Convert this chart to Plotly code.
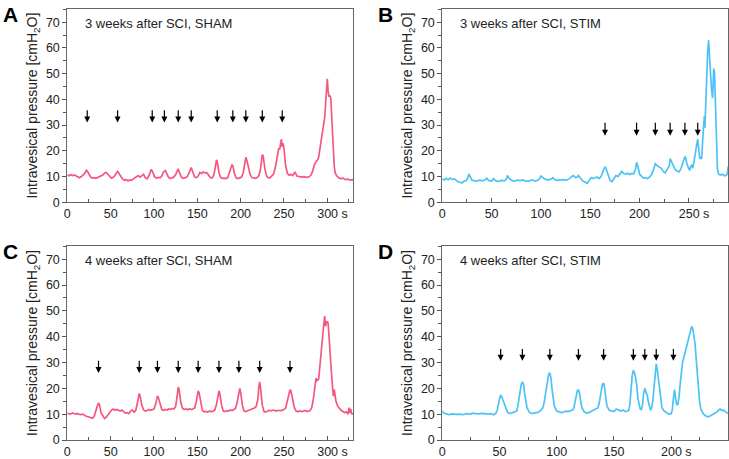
import plotly.graph_objects as go

# panel A: 3 weeks after SCI, SHAM
t_a = [0, 2, 4, 6, 8, 10, 12, 14, 16, 18, 20, 22, 23, 25, 27, 29, 31, 33, 35, 37, 39, 41, 43, 45, 47, 49,
       51, 53, 55, 57, 58, 60, 62, 64, 66, 68, 70, 72, 74, 76, 78, 80, 82, 84, 86, 88, 90, 92, 94, 96, 97,
       99, 101, 103, 105, 107, 109, 111, 113, 115, 117, 119, 121, 123, 125, 127, 128, 130, 132, 134, 136,
       138, 140, 142, 143, 145, 147, 149, 151, 153, 155, 157, 159, 161, 163, 165, 167, 169, 171, 172, 173,
       175, 177, 179, 181, 183, 185, 187, 189, 190, 191, 193, 195, 197, 199, 201, 203, 205, 206, 207, 209,
       211, 213, 215, 217, 219, 221, 223, 225, 226, 228, 230, 232, 234, 236, 238, 240, 242, 243, 244, 245,
       246, 247, 248, 249, 250, 251, 252, 254, 256, 258, 260, 262, 263, 265, 267, 270, 273, 276, 279, 281,
       283, 285, 287, 289, 290, 292, 294, 296, 297, 298, 299, 300, 301, 302, 303, 304, 305, 306, 307, 308,
       309, 311, 313, 315, 318, 321, 324, 327, 330]
p_a = [10.6, 10.3, 10.7, 10.4, 10.6, 10.2, 9.8, 9.5, 9.9, 10.4, 11.2, 12.4, 12.1, 11.0, 9.8, 9.4, 9.6, 9.3,
       9.7, 9.9, 10.2, 10.6, 11.4, 11.6, 10.8, 9.9, 9.4, 9.7, 10.4, 11.6, 12.0, 11.0, 9.8, 9.0, 8.6, 8.9,
       8.3, 8.7, 8.5, 9.2, 9.5, 10.0, 10.3, 9.8, 10.5, 10.9, 9.6, 9.1, 10.2, 12.0, 12.8, 11.4, 9.8, 9.4,
       9.7, 9.5, 10.2, 11.8, 12.3, 11.0, 9.6, 9.2, 9.5, 9.8, 10.8, 12.6, 13.0, 11.0, 9.6, 9.3, 9.6, 9.8,
       11.0, 13.2, 13.5, 11.6, 9.8, 9.6, 10.2, 11.6, 11.2, 11.8, 11.4, 11.5, 10.5, 9.6, 9.4, 10.5, 14.0,
       16.5, 15.8, 11.5, 9.6, 9.3, 9.4, 9.2, 9.6, 11.5, 14.0, 14.5, 14.2, 11.0, 9.4, 9.2, 9.5, 9.8, 11.5,
       16.0, 17.5, 16.5, 13.5, 10.8, 9.6, 9.4, 9.3, 9.6, 10.4, 13.0, 18.5, 18.0, 13.0, 10.2, 9.5, 9.6, 10.4,
       11.0, 13.5, 18.0, 19.5, 21.0, 20.5, 22.5, 24.5, 21.5, 23.0, 21.0, 18.0, 14.0, 11.2, 10.5, 10.8, 10.4,
       11.4, 11.6, 10.2, 10.0, 9.8, 10.0, 9.7, 9.9, 10.5, 12.0, 14.5, 15.8, 16.5, 17.5, 22.0, 26.0, 30.0,
       33.0, 38.0, 44.0, 48.0, 43.0, 41.0, 41.5, 40.5, 34.0, 27.0, 19.0, 14.0, 11.5, 10.2, 9.6, 9.2, 9.4,
       8.8, 9.0, 8.6, 8.8]
arrows_a = [23, 58, 98, 112, 128, 143, 173, 191, 206, 225, 248]

# panel B: 3 weeks after SCI, STIM
t_b = [0, 2, 4, 6, 8, 10, 12, 14, 16, 18, 20, 22, 24, 26, 27, 28, 30, 32, 35, 38, 41, 44, 45, 47, 50, 52,
       54, 57, 60, 63, 65, 66, 68, 70, 73, 76, 79, 82, 85, 88, 91, 94, 97, 99, 100, 102, 104, 107, 110, 112,
       114, 117, 120, 123, 126, 129, 131, 133, 135, 137, 138, 140, 142, 144, 146, 147, 149, 151, 153, 155,
       157, 159, 161, 163, 165, 166, 168, 170, 172, 174, 176, 178, 180, 182, 184, 186, 188, 190, 192, 194,
       196, 197, 198, 200, 202, 204, 206, 208, 210, 212, 214, 216, 218, 220, 222, 224, 226, 228, 230, 231,
       232, 234, 236, 238, 240, 242, 244, 246, 247, 248, 250, 251, 252, 253, 254, 255, 256, 257, 258, 259,
       260, 261, 262, 263, 264, 265, 265.7, 266.3, 267, 268, 269, 270, 271, 272, 273, 274, 274.6, 275.2,
       276, 277, 278, 279, 280, 282, 284, 286, 288, 289, 290]
p_b = [9.2, 8.6, 9.3, 8.8, 9.4, 8.9, 9.1, 8.4, 8.0, 7.8, 7.5, 8.2, 8.4, 9.5, 11.0, 10.2, 8.6, 8.4, 8.2, 8.6,
       8.3, 8.8, 9.4, 8.5, 8.2, 9.2, 8.4, 8.1, 8.5, 8.3, 9.0, 10.4, 9.2, 8.6, 8.2, 8.6, 8.4, 8.7, 8.1, 8.3,
       8.7, 8.2, 8.6, 9.4, 10.2, 9.6, 9.0, 8.7, 8.9, 9.6, 8.8, 8.5, 8.6, 8.8, 8.6, 9.2, 10.0, 10.4, 9.6,
       9.8, 10.4, 9.2, 8.4, 8.0, 7.8, 7.4, 8.6, 9.6, 9.2, 9.4, 9.8, 9.2, 10.0, 12.0, 13.8, 13.2, 10.5, 8.6,
       8.0, 9.2, 10.4, 10.0, 10.8, 12.0, 11.2, 11.0, 11.3, 10.8, 11.2, 11.0, 13.0, 15.5, 14.5, 11.0, 10.2,
       9.4, 9.6, 9.2, 9.8, 10.6, 12.5, 15.0, 14.2, 13.8, 13.2, 12.0, 11.4, 12.8, 14.0, 17.0, 16.2, 14.0,
       12.8, 12.2, 11.8, 13.0, 15.5, 17.8, 17.0, 15.0, 13.0, 12.4, 14.0, 14.6, 13.2, 15.0, 17.5, 20.0, 22.5,
       24.5, 21.0, 17.0, 17.4, 16.8, 24.0, 30.0, 33.5, 29.0, 38.0, 50.0, 58.0, 63.0, 58.0, 50.0, 44.0, 40.5,
       46.0, 52.0, 50.5, 38.0, 22.0, 13.0, 11.0, 10.6, 10.9, 10.3, 10.5, 11.0, 14.0]
arrows_b = [165, 197, 216, 231, 246, 259]

# panel C: 4 weeks after SCI, SHAM
t_c = [0, 3, 6, 9, 12, 15, 18, 21, 24, 27, 29, 31, 33, 35, 36, 37, 39, 41, 43, 45, 47, 49, 51, 53, 55, 57,
       59, 61, 63, 65, 67, 69, 71, 73, 75, 77, 79, 81, 83, 84, 86, 88, 90, 92, 94, 96, 98, 100, 102, 104,
       105, 107, 109, 111, 113, 115, 117, 119, 121, 123, 125, 127, 128, 129, 131, 133, 135, 137, 139, 141,
       143, 145, 147, 149, 151, 152, 154, 156, 158, 160, 162, 164, 166, 168, 170, 172, 174, 175, 176, 178,
       180, 182, 184, 186, 188, 190, 192, 194, 196, 198, 199, 200, 202, 204, 206, 208, 210, 212, 214, 216,
       218, 220, 221, 222, 223, 225, 227, 229, 231, 233, 235, 238, 241, 244, 247, 250, 252, 254, 256, 257,
       258, 260, 262, 264, 266, 268, 271, 274, 277, 280, 282, 284, 286, 287, 288, 290, 291, 292, 293, 294,
       295, 296, 297, 298, 299, 300, 301, 302, 303, 304, 305, 306, 307, 308, 309, 310, 312, 314, 316, 318,
       320, 322, 324, 325, 326, 327, 328, 330]
p_c = [10.4, 10.0, 10.5, 10.1, 10.2, 9.8, 10.0, 9.3, 9.0, 8.6, 8.4, 9.2, 11.8, 13.5, 14.3, 13.8, 10.5, 9.2,
       8.3, 8.8, 9.8, 10.6, 11.6, 12.0, 11.5, 11.8, 11.4, 11.2, 11.6, 10.8, 10.4, 10.6, 10.2, 11.2, 11.6,
       10.8, 11.5, 14.5, 18.0, 17.0, 13.5, 11.6, 11.2, 11.4, 11.8, 11.5, 11.9, 12.0, 14.0, 17.0, 16.5, 13.5,
       11.8, 11.5, 11.8, 11.6, 12.0, 11.9, 12.2, 12.0, 13.0, 17.5, 20.5, 19.5, 14.5, 12.2, 11.8, 12.0, 11.7,
       12.1, 11.8, 12.0, 12.4, 15.0, 19.0, 18.4, 14.0, 11.3, 10.9, 11.1, 10.8, 11.2, 10.9, 11.1, 11.5, 13.5,
       17.5, 19.0, 18.0, 13.5, 11.2, 11.0, 11.4, 11.2, 11.6, 11.4, 11.8, 12.2, 14.5, 19.5, 20.0, 18.5, 13.5,
       11.2, 11.0, 11.3, 11.6, 11.8, 12.0, 12.4, 13.0, 16.0, 20.5, 22.5, 20.0, 13.5, 11.0, 10.8, 11.2, 11.5,
       11.3, 11.6, 11.2, 11.5, 11.4, 11.8, 12.5, 15.0, 18.5, 19.5, 19.0, 15.5, 12.5, 11.2, 10.9, 11.3, 11.0,
       11.4, 11.1, 11.3, 12.5, 16.0, 21.5, 24.0, 23.0, 23.5, 27.0, 31.0, 36.0, 40.0, 43.5, 45.0, 48.0, 44.0,
       45.5, 46.0, 45.0, 41.0, 36.0, 30.0, 25.0, 20.0, 17.0, 19.5, 17.5, 15.0, 13.0, 12.0, 11.5, 11.0, 10.6,
       10.9, 10.0, 12.5, 10.5, 12.0, 10.2, 10.0]
arrows_c = [36, 83, 104, 128, 151, 175, 198, 222, 257]

# panel D: 4 weeks after SCI, STIM
t_d = [0, 1, 3, 6, 9, 12, 15, 18, 21, 24, 27, 30, 33, 36, 39, 42, 45, 47, 48, 49, 50, 51, 52, 53, 54, 55,
       57, 59, 61, 63, 65, 66, 67, 68, 69, 70, 71, 72, 73, 74, 76, 78, 80, 82, 84, 86, 88, 89, 90, 91, 92,
       93, 94, 95, 96, 97, 98, 100, 102, 104, 106, 108, 110, 112, 114, 115, 116, 117, 118, 119, 120, 121,
       122, 124, 126, 128, 130, 132, 134, 136, 137, 138, 139, 140, 141, 142, 143, 144, 146, 148, 150, 152,
       154, 156, 158, 160, 162, 163, 164, 165, 166, 167, 168, 169, 170, 171, 172, 173, 174, 175, 176, 177,
       178, 179, 180, 181, 182, 183, 184, 185, 186, 187, 188, 189, 190, 191, 192, 194, 196, 198, 200, 201,
       202, 203, 204, 205, 206, 207, 208, 209, 210, 212, 214, 216, 217, 218, 219, 220, 221, 222, 223, 224,
       225, 226, 228, 230, 232, 234, 236, 238, 240, 242, 243, 244, 246, 248, 249, 250]
p_d = [11.4, 10.4, 10.2, 9.8, 10.1, 9.9, 10.0, 9.8, 10.2, 10.0, 10.4, 10.1, 10.2, 10.3, 10.0, 10.2, 9.8,
       10.5, 11.5, 14.0, 16.0, 17.2, 16.8, 15.5, 14.2, 12.5, 10.8, 10.2, 10.5, 10.6, 11.2, 13.0, 16.5, 19.5,
       21.5, 22.5, 21.5, 18.0, 14.5, 12.5, 10.8, 10.2, 10.4, 10.6, 10.8, 11.5, 12.5, 14.5, 17.0, 20.0, 23.0,
       25.5, 26.0, 24.0, 19.5, 15.5, 13.0, 11.2, 11.0, 10.6, 10.8, 11.2, 11.0, 11.2, 11.6, 12.5, 15.0, 17.5,
       19.0, 19.5, 18.0, 15.0, 12.5, 11.0, 10.4, 10.6, 11.2, 11.5, 12.0, 12.4, 14.0, 16.5, 19.5, 21.5, 22.0,
       20.0, 16.0, 13.0, 11.5, 11.2, 11.0, 12.0, 11.5, 11.2, 11.6, 11.0, 11.2, 11.5, 14.0, 20.0, 25.0, 27.0,
       26.0, 24.0, 21.0, 16.0, 13.0, 12.0, 11.8, 13.5, 18.0, 20.0, 18.5, 17.5, 15.0, 12.5, 11.5, 12.5, 15.0,
       20.0, 25.0, 29.5, 27.0, 23.5, 19.0, 15.0, 12.5, 11.2, 10.5, 10.0, 10.2, 11.5, 16.0, 19.5, 16.0, 13.5,
       14.0, 17.0, 22.0, 27.0, 30.0, 33.5, 37.0, 41.0, 43.0, 44.0, 43.0, 40.5, 37.0, 31.0, 25.0, 19.0, 14.5,
       12.0, 10.2, 9.4, 9.0, 9.3, 9.8, 10.2, 10.8, 11.8, 12.0, 11.5, 11.6, 10.8, 10.5, 10.2]
arrows_d = [51, 70, 94, 119, 141, 167, 177, 187, 202]

titles = ["3 weeks after SCI, SHAM", "3 weeks after SCI, STIM",
          "4 weeks after SCI, SHAM", "4 weeks after SCI, STIM"]
letters = ["A", "B", "C", "D"]

W, H = 729, 459
FONT = "Arial, Liberation Sans, sans-serif"
PINK = "#F4577F"
BLUE = "#4DC2F5"

panels = [
    dict(t=t_a, p=p_a, arr=arrows_a, col=PINK, xmax=330, last=300, x0=67.3, x1=353.3, y0=9.3, y1=202.3, arr_y=(36.4, 31.0)),
    dict(t=t_b, p=p_b, arr=arrows_b, col=BLUE, xmax=290, last=250, x0=442.3, x1=728.3, y0=9.3, y1=202.3, arr_y=(31.5, 25.9)),
    dict(t=t_c, p=p_c, arr=arrows_c, col=PINK, xmax=330, last=300, x0=67.3, x1=353.3, y0=246.3, y1=440, arr_y=(31.3, 25.9)),
    dict(t=t_d, p=p_d, arr=arrows_d, col=BLUE, xmax=250, last=200, x0=442.3, x1=728.3, y0=246.3, y1=440, arr_y=(35.8, 30.7)),
]

fig = go.Figure()
annotations = []
for i, pn in enumerate(panels):
    n = "" if i == 0 else str(i + 1)
    fig.add_trace(go.Scatter(x=pn["t"], y=pn["p"], mode="lines", line=dict(color=pn["col"], width=1.7),
                             xaxis="x" + n, yaxis="y" + n, showlegend=False, hoverinfo="skip"))
    ticks = list(range(0, pn["last"] + 1, 50))
    ticktext = [str(v) for v in ticks]
    ticktext[-1] = "\u00a0\u00a0\u00a0" + ticktext[-1] + " s"
    fig.layout["xaxis" + n] = dict(
        domain=[pn["x0"] / W, pn["x1"] / W], anchor="y" + n, range=[0, pn["xmax"]],
        tickvals=ticks, ticktext=ticktext, ticks="inside", ticklen=4, tickcolor="#555",
        minor=dict(dtick=25, tick0=0, ticks="inside", ticklen=3, tickcolor="#555"),
        showline=True, linecolor="#666", linewidth=1, mirror=True, showgrid=False, zeroline=False,
        tickfont=dict(family=FONT, size=12.5, color="#222"), automargin=False)
    fig.layout["yaxis" + n] = dict(
        domain=[1 - pn["y1"] / H, 1 - pn["y0"] / H], anchor="x" + n, range=[0, 75],
        tickvals=list(range(0, 71, 10)), ticks="outside", ticklen=4, tickcolor="#555",
        minor=dict(dtick=5, tick0=0, ticks="outside", ticklen=3, tickcolor="#555"),
        showline=True, linecolor="#666", linewidth=1, mirror=True, showgrid=False, zeroline=False,
        tickfont=dict(family=FONT, size=12.5, color="#222"), automargin=False)

    for a in pn["arr"]:
        annotations.append(dict(x=a, y=pn["arr_y"][1], ax=a, ay=pn["arr_y"][0], xref="x" + n, yref="y" + n,
                                axref="x" + n, ayref="y" + n, showarrow=True, arrowhead=2, arrowsize=1.0,
                                arrowwidth=1.2, arrowcolor="black", text=""))
    # panel title
    annotations.append(dict(x=0.055, y=0.925, xref="x" + n + " domain", yref="y" + n + " domain",
                            text=titles[i], showarrow=False, xanchor="left", yanchor="middle",
                            font=dict(family=FONT, size=13, color="#222")))
    # panel letter
    annotations.append(dict(x=(pn["x0"] - 66.5) / W, y=1 - (pn["y0"] + 5.5) / H, xref="paper", yref="paper",
                            text="<b>" + letters[i] + "</b>", showarrow=False, xanchor="left", yanchor="middle",
                            font=dict(family=FONT, size=21, color="black")))
    # y axis title
    annotations.append(dict(x=(pn["x0"] - 34.5) / W, y=1 - (pn["y0"] + pn["y1"]) / 2 / H, xref="paper",
                            yref="paper", text="Intravesical pressure [cmH<sub>2</sub>O]", textangle=-90,
                            showarrow=False, xanchor="center", yanchor="middle",
                            font=dict(family=FONT, size=14, color="#222")))

fig.update_layout(width=W, height=H, margin=dict(l=0, r=0, t=0, b=0), plot_bgcolor="white",
                  paper_bgcolor="white", annotations=annotations)
# the page body has a default 8px margin; drop it so the figure sits at the window corner
fig.write_html("out.html", config={"displayModeBar": False},
               post_script="document.body.style.margin='0';")
